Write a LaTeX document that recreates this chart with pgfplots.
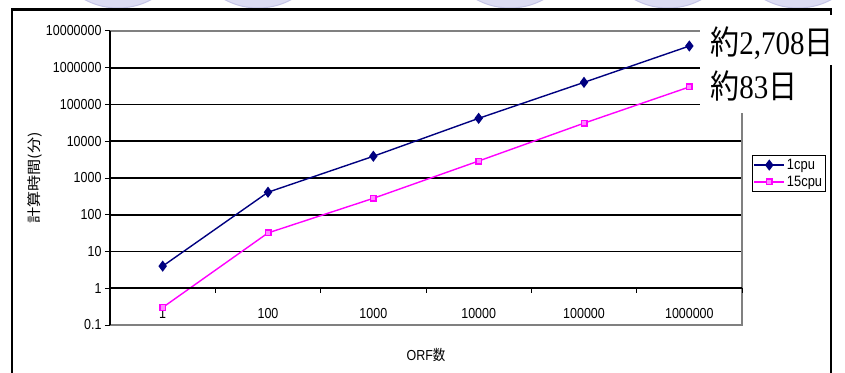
\documentclass[border=0pt]{standalone}
\usepackage{pgfplots}
\pgfplotsset{compat=1.18}
\usepackage{fontspec}
\setmainfont{Liberation Sans}[FakeStretch=0.86]
\newfontfamily\cjk{Noto Sans CJK JP}[FakeStretch=0.86]
\newfontfamily\cjkwide{Noto Sans CJK JP}[FakeStretch=1.15]
\newfontfamily\serifc{Liberation Serif}[FakeStretch=0.88]
\newfontfamily\cjkc{Noto Sans CJK JP}[FakeStretch=0.88]
\definecolor{navyc}{HTML}{000080}
\definecolor{magc}{HTML}{FF00FF}
\definecolor{lav}{HTML}{DCDCF2}
\definecolor{lavedge}{HTML}{C4C4E6}
\begin{document}
\begin{tikzpicture}[x=1pt,y=1pt]
\useasboundingbox (0,0) rectangle (845,372);
\begin{scope}
\clip (0,0) rectangle (845,372);
\foreach \cx in {118,258,510,668,798}{
  \filldraw[fill=lav,draw=lavedge,line width=1pt] (\cx,434) circle (70);
}
\end{scope}
\fill[white] (0,0) rectangle (845,362.5);
% outer frame
\draw[black,line width=2.5pt] (12,-5) -- (12,362.5) -- (831,362.5) -- (831,-5);
\begin{axis}[
  at={(110pt,47pt)}, anchor=south west,
  scale only axis, width=632pt, height=294pt,
  ymode=log, ymin=0.1, ymax=1e7,
  xmin=-0.5, xmax=5.5,
  xtick={0,1,2,3,4,5},
  xticklabels={1,100,1000,10000,100000,1000000},
  major x tick style={draw=none},
  xticklabel style={yshift=25pt},
  ytick={0.1,1,10,100,1000,10000,100000,1000000,10000000},
  yticklabels={0.1,1,10,100,1000,10000,100000,1000000,10000000},
  minor ytick={},
  yminorticks=false,
  tick align=outside,
  major tick length=5pt,
  y tick style={black,line width=1pt},
  ytick pos=left,
  ymajorgrids,
  major grid style={black,line width=1.6pt},
  axis line style={draw=none},
  tick label style={font=\fontsize{14.5}{16}\selectfont},
  /pgf/number format/assume math mode=true,
  xlabel={ORF{\cjk 数}},
  xlabel style={font=\fontsize{14.5}{16}\selectfont, at={(axis description cs:0.5,-0.102)}, anchor=center},
  ylabel={\cjkwide 計算時間(分)},
  ylabel style={font=\fontsize{14}{16}\selectfont, at={(axis description cs:-0.119,0.5)}, anchor=center, rotate=0},
  legend style={at={(1.0158,0.578)}, anchor=north west, draw=black, line width=1.2pt,
    font=\fontsize{15}{17}\selectfont, inner xsep=1pt, inner ysep=1.5pt, row sep=1pt,
    legend cell align=left},
  legend image code/.code={\draw[mark repeat=2,mark phase=2] plot coordinates {(0pt,0pt) (15pt,0pt) (30pt,0pt)};},
  clip=false,
]
\addplot[navyc, line width=1.4pt, mark=diamond*, mark size=4.5pt, mark options={fill=navyc}]
  coordinates {(0,4) (1,410) (2,3900) (3,42000) (4,400000) (5,3900000)};
\addlegendentry{1cpu}
\addplot[magc, line width=1.4pt, mark=square*, mark size=2.8pt, mark options={fill=magc!45,draw=magc}]
  coordinates {(0,0.3) (1,32) (2,280) (3,2900) (4,31000) (5,300000)};
\addlegendentry{15cpu}
% plot area border
\draw[gray,line width=1.5pt] (rel axis cs:0,1) -- (rel axis cs:1,1) -- (rel axis cs:1,0) -- (rel axis cs:0,0);
\draw[black,line width=1.5pt] (rel axis cs:0,0) -- (rel axis cs:0,1);
% x axis line at 1
\draw[black,line width=1.6pt] (axis cs:-0.5,1) -- (axis cs:5.5,1);
\pgfplotsinvokeforeach{0.5,1.5,2.5,3.5,4.5,5.5}{
  \draw[black,line width=1pt] (axis cs:#1,1) -- ++(0pt,-5pt);
}
\end{axis}
% annotations
\fill[white] (700,307) rectangle (845,357);
\fill[white] (700,259) rectangle (815,307);
\node[anchor=base west,inner sep=0,font=\fontsize{33}{36}\selectfont] at (710,317) {{\cjkc 約}{\serifc 2,708}{\cjkc 日}};
\node[anchor=base west,inner sep=0,font=\fontsize{33}{36}\selectfont] at (710,273) {{\cjkc 約}{\serifc 83}{\cjkc 日}};
\end{tikzpicture}
\end{document}
